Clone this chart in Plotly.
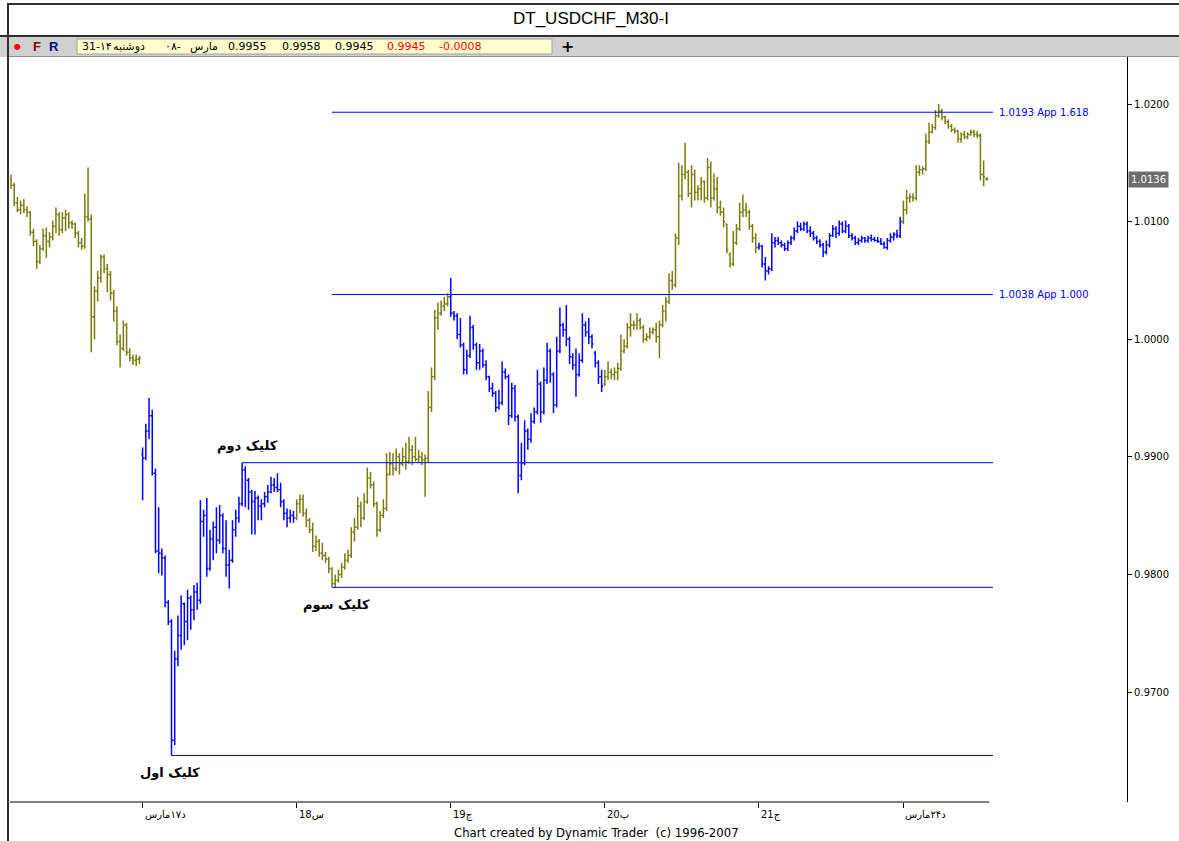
import plotly.graph_objects as go

# ---------------- data (prices in pips: 10136 -> 1.0136) ----------------
day_labels = ["د۱۷مارس", "س18", "چ19", "پ20", "ج21", "د۲۴مارس"]
day_bar_counts = [41, 48, 48, 48, 48, 45, 27]   # Fri14, Mon17, Tue18, Wed19, Thu20, Fri21, Mon24

opens = [
    10136, 10131, 10116, 10110, 10114, 10110, 10108, 10091, 10083, 10066,
    10077, 10088, 10083, 10087, 10096, 10106, 10093, 10103, 10106, 10099,
    10098, 10090, 10082, 10079, 10104, 10102, 10019, 10041, 10052, 10070,
    10060, 10055, 10039, 10024, 9998, 9992, 10012, 9989, 9984, 9982,
    9983, 9902, 9899, 9922, 9935, 9886, 9820, 9818, 9814, 9776,
    9760, 9659, 9728, 9748, 9775, 9760, 9780, 9770, 9785, 9778,
    9845, 9850, 9805, 9830, 9840, 9829, 9850, 9822, 9808, 9812,
    9838, 9848, 9860, 9889, 9880, 9870, 9862, 9865, 9858, 9860,
    9866, 9870, 9876, 9874, 9872, 9862, 9852, 9848, 9850, 9848,
    9860, 9864, 9852, 9846, 9838, 9824, 9828, 9818, 9816, 9813,
    9805, 9792, 9795, 9800, 9806, 9812, 9816, 9836, 9840, 9858,
    9848, 9862, 9882, 9876, 9860, 9838, 9850, 9856, 9885, 9894,
    9890, 9900, 9894, 9900, 9896, 9906, 9900, 9898, 9900, 9897,
    9899, 9942, 9968, 10018, 10022, 10028, 10030, 10036, 10022, 10020,
    10004, 9995, 9974, 9986, 10010, 9995, 9980, 9990, 9978, 9968,
    9958, 9954, 9942, 9946, 9972, 9968, 9935, 9958, 9934, 9884,
    9895, 9922, 9915, 9930, 9938, 9962, 9938, 9965, 9990, 9970,
    9944, 9990, 10012, 10008, 10000, 9985, 9978, 9970, 9982, 10012,
    10006, 10002, 9988, 9980, 9968, 9962, 9968, 9972, 9970, 9972,
    9975, 9990, 9994, 10010, 10012, 10012, 10016, 10010, 10000, 10002,
    10006, 10008, 10002, 10012, 10024, 10032, 10050, 10046, 10086, 10122,
    10140, 10142, 10124, 10140, 10125, 10128, 10134, 10120, 10146, 10120,
    10128, 10112, 10108, 10098, 10072, 10064, 10082, 10094, 10108, 10110,
    10108, 10096, 10086, 10078, 10079, 10064, 10058, 10060, 10082, 10084,
    10082, 10080, 10077, 10082, 10086, 10092, 10096, 10094, 10098, 10092,
    10090, 10086, 10083, 10080, 10074, 10080, 10088, 10094, 10090, 10098,
    10092, 10096, 10088, 10086, 10082, 10084, 10086, 10084, 10086, 10085,
    10084, 10083, 10081, 10078, 10084, 10087, 10089, 10088, 10100, 10110,
    10120, 10121, 10120, 10142, 10144, 10145, 10168, 10176, 10180, 10190,
    10194, 10189, 10185, 10181, 10178, 10177, 10170, 10174, 10172, 10174,
    10176, 10174, 10173, 10140, 10136,
]
highs = [
    10140, 10133, 10121, 10118, 10119, 10113, 10109, 10094, 10085, 10080,
    10094, 10095, 10091, 10101, 10112, 10108, 10108, 10110, 10108, 10101,
    10099, 10092, 10086, 10124, 10146, 10106, 10045, 10058, 10072, 10072,
    10064, 10058, 10042, 10028, 10004, 10016, 10014, 9992, 9987, 9987,
    9986, 9908, 9928, 9950, 9940, 9890, 9857, 9822, 9816, 9778,
    9762, 9735, 9765, 9782, 9776, 9787, 9782, 9791, 9793, 9863,
    9855, 9865, 9838, 9845, 9857, 9859, 9852, 9846, 9821, 9846,
    9855, 9866, 9895, 9892, 9882, 9872, 9871, 9867, 9864, 9870,
    9876, 9883, 9882, 9886, 9878, 9864, 9856, 9855, 9854, 9864,
    9868, 9868, 9856, 9848, 9844, 9833, 9830, 9827, 9819, 9815,
    9806, 9800, 9804, 9810, 9818, 9821, 9840, 9848, 9866, 9862,
    9869, 9891, 9887, 9879, 9862, 9854, 9864, 9903, 9904, 9903,
    9907, 9903, 9908, 9912, 9917, 9910, 9917, 9906, 9904, 9902,
    9956, 9976, 10025, 10031, 10033, 10036, 10039, 10052, 10024, 10022,
    10018, 9997, 9991, 10020, 10012, 9997, 9996, 9992, 9982, 9969,
    9963, 9956, 9957, 9981, 9975, 9970, 9963, 9961, 9936, 9912,
    9931, 9924, 9937, 9942, 9974, 9964, 9976, 9997, 9992, 9972,
    10002, 10027, 10014, 10029, 10002, 9988, 9992, 9988, 10022, 10015,
    10018, 10004, 9990, 9982, 9974, 9974, 9981, 9975, 9976, 9980,
    10004, 10000, 10014, 10022, 10016, 10022, 10018, 10012, 10005, 10010,
    10010, 10014, 10016, 10029, 10036, 10056, 10058, 10090, 10150, 10148,
    10167, 10144, 10148, 10144, 10131, 10138, 10135, 10154, 10151, 10141,
    10138, 10118, 10112, 10098, 10074, 10092, 10098, 10116, 10123, 10116,
    10110, 10098, 10090, 10082, 10080, 10070, 10062, 10090, 10087, 10087,
    10084, 10082, 10084, 10088, 10095, 10100, 10099, 10100, 10100, 10096,
    10092, 10088, 10085, 10082, 10084, 10090, 10097, 10096, 10101, 10100,
    10101, 10098, 10090, 10088, 10086, 10088, 10087, 10088, 10089, 10087,
    10087, 10086, 10083, 10086, 10090, 10091, 10093, 10104, 10118, 10127,
    10124, 10124, 10148, 10148, 10147, 10175, 10184, 10183, 10195, 10200,
    10196, 10190, 10187, 10183, 10180, 10178, 10176, 10177, 10176, 10178,
    10178, 10177, 10175, 10152, 10138,
]
lows = [
    10128, 10113, 10108, 10106, 10107, 10104, 10088, 10079, 10060, 10064,
    10075, 10069, 10078, 10084, 10090, 10088, 10090, 10092, 10094, 10094,
    10086, 10078, 10076, 10077, 10100, 9989, 10000, 10032, 10048, 10056,
    10040, 10033, 10015, 9995, 9976, 9990, 9986, 9981, 9978, 9977,
    9979, 9863, 9897, 9915, 9884, 9818, 9801, 9799, 9772, 9757,
    9646, 9655, 9722, 9736, 9740, 9744, 9753, 9761, 9770, 9775,
    9832, 9798, 9803, 9812, 9818, 9826, 9818, 9798, 9788, 9810,
    9832, 9844, 9858, 9857, 9855, 9834, 9834, 9846, 9846, 9857,
    9861, 9869, 9870, 9870, 9857, 9846, 9840, 9844, 9844, 9846,
    9852, 9849, 9840, 9835, 9819, 9820, 9815, 9812, 9810, 9801,
    9789, 9789, 9793, 9797, 9804, 9810, 9814, 9828, 9838, 9840,
    9846, 9860, 9873, 9857, 9832, 9836, 9848, 9854, 9884, 9884,
    9888, 9885, 9892, 9889, 9894, 9893, 9896, 9895, 9893, 9866,
    9895, 9938, 9965, 10008, 10020, 10024, 10028, 10019, 10016, 10000,
    9993, 9970, 9970, 9984, 9991, 9974, 9974, 9976, 9965, 9955,
    9951, 9938, 9940, 9944, 9966, 9927, 9933, 9930, 9869, 9880,
    9893, 9906, 9912, 9928, 9936, 9929, 9936, 9962, 9963, 9937,
    9942, 9988, 10002, 9994, 9979, 9974, 9951, 9968, 9980, 10002,
    9996, 9992, 9976, 9962, 9955, 9960, 9965, 9966, 9965, 9965,
    9973, 9988, 9992, 10002, 10008, 10008, 10008, 9997, 9998, 10000,
    10004, 9997, 9984, 10010, 10015, 10030, 10042, 10044, 10080, 10118,
    10136, 10121, 10112, 10118, 10118, 10118, 10116, 10118, 10112, 10118,
    10107, 10105, 10095, 10073, 10061, 10062, 10080, 10092, 10104, 10104,
    10093, 10082, 10073, 10076, 10061, 10050, 10055, 10058, 10078, 10080,
    10078, 10075, 10075, 10080, 10084, 10090, 10092, 10092, 10090, 10087,
    10084, 10081, 10078, 10070, 10072, 10078, 10087, 10086, 10088, 10090,
    10090, 10086, 10084, 10080, 10080, 10082, 10082, 10082, 10083, 10083,
    10082, 10080, 10077, 10076, 10082, 10084, 10086, 10086, 10098, 10106,
    10116, 10117, 10118, 10139, 10140, 10143, 10166, 10175, 10178, 10188,
    10186, 10183, 10179, 10176, 10175, 10167, 10167, 10170, 10170, 10173,
    10172, 10171, 10135, 10130, 10135,
]
closes = [
    10131, 10116, 10110, 10114, 10110, 10108, 10091, 10083, 10066, 10077,
    10088, 10083, 10087, 10096, 10106, 10093, 10103, 10106, 10099, 10098,
    10090, 10082, 10079, 10104, 10102, 10019, 10041, 10052, 10070, 10060,
    10055, 10039, 10024, 9998, 9992, 10012, 9989, 9984, 9982, 9983,
    9984, 9899, 9922, 9935, 9886, 9820, 9818, 9814, 9776, 9760,
    9659, 9728, 9748, 9775, 9760, 9780, 9770, 9785, 9778, 9845,
    9850, 9805, 9830, 9840, 9829, 9850, 9822, 9808, 9812, 9838,
    9848, 9860, 9889, 9880, 9870, 9862, 9865, 9858, 9860, 9866,
    9870, 9876, 9874, 9872, 9862, 9852, 9848, 9850, 9848, 9860,
    9864, 9852, 9846, 9838, 9824, 9828, 9818, 9816, 9813, 9805,
    9792, 9795, 9800, 9806, 9812, 9816, 9836, 9840, 9858, 9848,
    9862, 9882, 9876, 9860, 9838, 9850, 9856, 9885, 9894, 9890,
    9900, 9894, 9900, 9896, 9906, 9900, 9898, 9900, 9897, 9899,
    9942, 9968, 10018, 10022, 10028, 10030, 10036, 10022, 10020, 10004,
    9995, 9974, 9986, 10010, 9995, 9980, 9990, 9978, 9968, 9958,
    9954, 9942, 9946, 9972, 9968, 9935, 9958, 9934, 9884, 9895,
    9922, 9915, 9930, 9938, 9962, 9938, 9965, 9990, 9970, 9944,
    9990, 10012, 10008, 10000, 9985, 9978, 9970, 9982, 10012, 10006,
    10002, 9996, 9980, 9968, 9960, 9968, 9972, 9970, 9972, 9975,
    9990, 9994, 10010, 10012, 10012, 10016, 10010, 10000, 10002, 10006,
    10008, 10002, 10012, 10024, 10032, 10050, 10046, 10086, 10122, 10140,
    10142, 10124, 10140, 10125, 10128, 10134, 10120, 10146, 10120, 10128,
    10112, 10108, 10100, 10076, 10064, 10082, 10094, 10108, 10110, 10108,
    10096, 10086, 10078, 10079, 10064, 10058, 10060, 10082, 10084, 10082,
    10080, 10077, 10082, 10086, 10092, 10096, 10094, 10098, 10092, 10090,
    10086, 10083, 10080, 10074, 10080, 10088, 10094, 10090, 10098, 10092,
    10096, 10088, 10086, 10082, 10084, 10086, 10084, 10086, 10085, 10084,
    10083, 10081, 10078, 10084, 10087, 10089, 10088, 10100, 10110, 10120,
    10121, 10120, 10142, 10144, 10145, 10168, 10176, 10180, 10190, 10194,
    10189, 10185, 10181, 10178, 10177, 10170, 10174, 10172, 10174, 10176,
    10174, 10173, 10140, 10138, 10136,
]

# AB=CD projection tool (clicks: first, second, third) and its projected levels
click_bars = [50, 72, 100]
click_prices = [0.9646, 0.9895, 0.9789]
click_texts = ["کلیک اول", "کلیک دوم", "کلیک سوم"]
proj_levels = [1.0038, 1.0193]
proj_ratios = ["1.000", "1.618"]

y_ticks = [0.97, 0.98, 0.99, 1.00, 1.01, 1.02]
info_date_parts = ["31-۱۴", "دوشنبه", "۰۸-", "مارس"]
info_ohlc = ["0.9955", "0.9958", "0.9945"]
info_close_change = ["0.9945", "-0.0008"]

# ---------------- styling / layout helpers ----------------
W, H = 1179, 841
PL, PR, PT, PB = 10, 1127, 57, 802          # plot area in pixels
OLIVE = "#7a7a0e"
BLUE = "#0000ff"
SMALL = "DejaVu Sans"


def px(x):
    return (x - PL) / (PR - PL)


def py(y):
    return (PB - y) / (PB - PT)


n = len(closes)
o = [v / 10000 for v in opens]
h = [v / 10000 for v in highs]
l = [v / 10000 for v in lows]
c = [v / 10000 for v in closes]

starts = []
s = 0
for cnt in day_bar_counts:
    starts.append(s)
    s += cnt

fig = go.Figure()
for d, cnt in enumerate(day_bar_counts):
    s0 = starts[d]
    idx = list(range(s0, s0 + cnt))
    col = OLIVE if d % 2 == 0 else BLUE
    fig.add_trace(go.Ohlc(
        x=idx,
        open=o[s0:s0 + cnt], high=h[s0:s0 + cnt],
        low=l[s0:s0 + cnt], close=c[s0:s0 + cnt],
        increasing=dict(line=dict(color=col, width=1.5)),
        decreasing=dict(line=dict(color=col, width=1.5)),
        tickwidth=0.45, hoverinfo="skip", showlegend=False,
    ))

# axis ranges from the pixel geometry of the reference (3.21 px per bar)
bar_px = 3.21
x_lo = -(1.0 / bar_px)
x_hi = x_lo + (PR - PL) / bar_px
px_per_unit = 11760.0
y_hi = 1.02 + (104 - PT) / px_per_unit
y_lo = y_hi - (PB - PT) / px_per_unit

tick_idx = starts[1:]
line_end = n + 0.9

shapes = []
annots = []


def note(x, y, text, size, color, family=SMALL, xanchor="center", yanchor="middle", **kw):
    d = dict(x=x, y=y, xref=kw.pop("xref", "paper"), yref=kw.pop("yref", "paper"),
             xanchor=xanchor, yanchor=yanchor, text=text, showarrow=False,
             font=dict(family=family, size=size, color=color))
    d.update(kw)
    annots.append(d)


# window chrome
shapes.append(dict(type="rect", xref="paper", yref="paper", x0=px(0), x1=px(W), y0=py(57), y1=py(36),
                   fillcolor="#d0d0d0", line=dict(width=0), layer="below"))
shapes.append(dict(type="line", xref="paper", yref="paper", x0=px(0), x1=px(W), y0=py(36), y1=py(36),
                   line=dict(color="#303030", width=2)))
shapes.append(dict(type="line", xref="paper", yref="paper", x0=px(8), x1=px(W), y0=py(56.5), y1=py(56.5),
                   line=dict(color="#909090", width=1)))
shapes.append(dict(type="line", xref="paper", yref="paper", x0=px(7), x1=px(W), y0=py(4), y1=py(4),
                   line=dict(color="#303030", width=2)))
shapes.append(dict(type="line", xref="paper", yref="paper", x0=px(8), x1=px(8), y0=py(4), y1=py(H),
                   line=dict(color="#303030", width=2)))
shapes.append(dict(type="rect", xref="paper", yref="paper", x0=px(77), x1=px(552), y0=py(54), y1=py(39),
                   fillcolor="#ffffcc", line=dict(color="#a0a0a0", width=1)))

# bottom axis line (only under the bars)
shapes.append(dict(type="line", xref="x", yref="paper", x0=x_lo, x1=n - 0.3, y0=0, y1=0,
                   line=dict(color="#000000", width=1.2)))

# AB=CD tool lines
for b, p in zip(click_bars, click_prices):
    shapes.append(dict(type="line", xref="x", yref="y", x0=b, x1=line_end, y0=p, y1=p,
                       line=dict(color=BLUE, width=1)))
for lev, rat in zip(proj_levels, proj_ratios):
    shapes.append(dict(type="line", xref="x", yref="y", x0=click_bars[2], x1=line_end, y0=lev, y1=lev,
                       line=dict(color=BLUE, width=1)))
    note(line_end, lev, f"{lev:.4f} App {rat}", 10, BLUE, xanchor="left", xref="x", yref="y", xshift=4)

# click labels
offsets = [(-2, -17), (5, 17), (4, -18)]
for b, p, t, (dx, dy) in zip(click_bars, click_prices, click_texts, offsets):
    note(b, p, f"<b>{t}</b>", 13, "#000000", family="DejaVu Sans", xref="x", yref="y",
         xshift=dx, yshift=dy)

# x tick labels
for ti, lab in zip(tick_idx, day_labels):
    note(ti, 0, lab, 10, "#000000", xanchor="left", yanchor="top", xref="x", yref="paper", yshift=-5)

# last price tag
last = closes[-1] / 10000
note(1, last, f"{last:.4f}", 10, "#ffffff", xanchor="left", yref="y", xshift=1,
     bgcolor="#6e6e6e", borderpad=2)

# title, info bar, footer
note(px(591), py(18), "DT_USDCHF_M30-I", 17, "#000000", family="Liberation Sans")
note(px(17), py(46), "●", 8, "#ff0000")
note(px(37), py(46), "<b>F</b>", 13, "#800000", family="Liberation Sans")
note(px(54), py(46), "<b>R</b>", 13, "#000080", family="Liberation Sans")
note(px(567), py(46), "<b>+</b>", 16, "#000000")
for xx, t in zip([80, 111, 163, 188], info_date_parts):
    note(px(xx), py(46.5), t, 11, "#000000", xanchor="left")
for xx, t in zip([226, 280, 333], info_ohlc):
    note(px(xx), py(46.5), t, 11, "#000000", xanchor="left")
for xx, t in zip([385, 437], info_close_change):
    note(px(xx), py(46.5), t, 11, "#ff0000", xanchor="left")
note(px(596), py(833), "Chart created by Dynamic Trader\u00a0\u00a0(c) 1996-2007", 11.7, "#000000")

fig.update_layout(
    width=W, height=H,
    margin=dict(l=PL, r=W - PR, t=PT, b=H - PB, pad=0),
    paper_bgcolor="#ffffff", plot_bgcolor="#ffffff",
    showlegend=False,
    shapes=shapes, annotations=annots,
    xaxis=dict(range=[x_lo, x_hi], showgrid=False, zeroline=False, showline=False,
               tickmode="array", tickvals=tick_idx, showticklabels=False,
               ticks="outside", ticklen=5, tickcolor="#000000", tickwidth=1,
               rangeslider=dict(visible=False), fixedrange=True),
    yaxis=dict(range=[y_lo, y_hi], side="right", showgrid=False, zeroline=False,
               showline=True, linecolor="#000000", linewidth=1.2, mirror=False,
               tickmode="array", tickvals=y_ticks, ticktext=[f"{v:.4f}" for v in y_ticks],
               ticks="outside", ticklen=4, tickcolor="#000000",
               tickfont=dict(family=SMALL, size=10, color="#000000"), fixedrange=True),
)

fig.write_html("out.html", config={"displayModeBar": False},
               post_script="document.body.style.margin='0';")
